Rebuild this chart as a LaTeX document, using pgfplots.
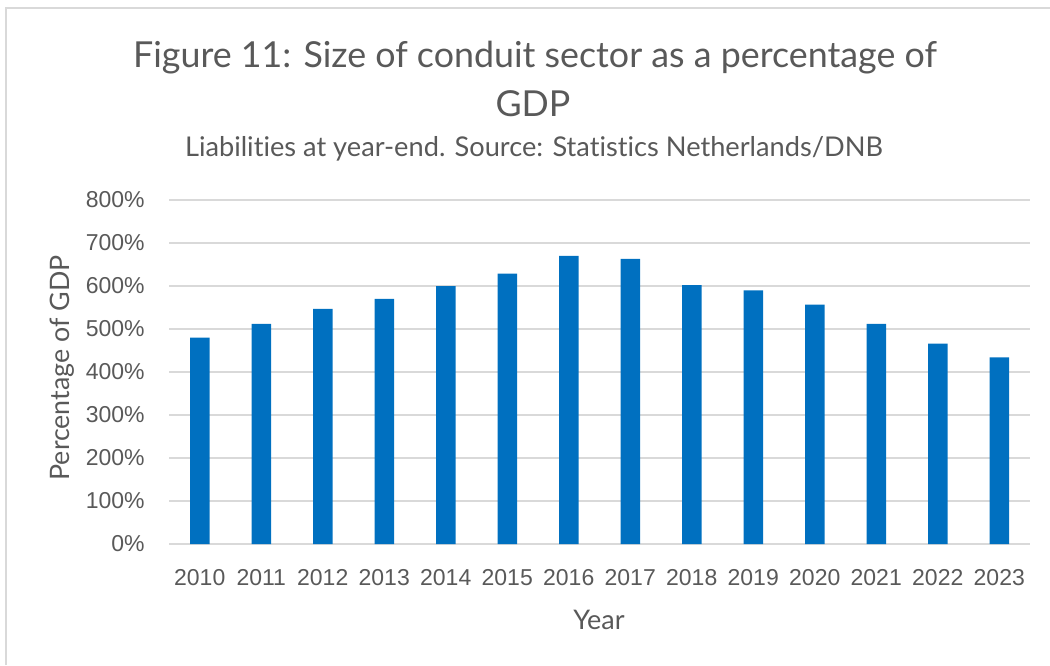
\documentclass[border=0pt]{standalone}
\usepackage{pgfplots}
\pgfplotsset{compat=1.18}
\usepackage{fontspec}
\setmainfont[Ligatures={NoCommon}]{Lato}
\newfontfamily\tickfont{Liberation Sans}
\definecolor{txt}{HTML}{595959}
\definecolor{gridc}{HTML}{D9D9D9}
\definecolor{bar}{HTML}{0070C0}
\pgfplotstableread{
idx year value
0 2010 480
1 2011 512
2 2012 547
3 2013 570
4 2014 600
5 2015 629
6 2016 670
7 2017 663
8 2018 602
9 2019 590
10 2020 557
11 2021 512
12 2022 466
13 2023 434
}\datatable
\begin{document}
\begin{tikzpicture}
\path[use as bounding box] (0pt,0pt) rectangle (525pt,-332.5pt);
\draw[gridc, line width=1.2pt] (3pt,-332.5pt) -- (3pt,-4pt) -- (525pt,-4pt);
\node[anchor=base, text=txt, font=\fontsize{17.9}{20}\selectfont] at (267.5pt,-33.5pt) {Figure 11: Size of conduit sector as a percentage of};
\node[anchor=base, text=txt, font=\fontsize{17.9}{20}\selectfont] at (266.5pt,-58pt) {GDP};
\node[anchor=base, text=txt, font=\fontsize{13.6}{15}\selectfont] at (267pt,-78pt) {Liabilities at year-end. Source: Statistics Netherlands/DNB};
\begin{axis}[
  at={(84.5pt,-272pt)}, anchor=south west,
  width=430.5pt, height=172pt, scale only axis,
  xmin=-0.5, xmax=13.5, ymin=0, ymax=800,
  axis line style={draw=none},
  ybar, bar width=9.75pt,
  xmajorgrids=false, ymajorgrids=true,
  y grid style={gridc, line width=0.8pt},
  ytick={0,100,...,800},
  xtick={0,...,13},
  xticklabels={2010,2011,2012,2013,2014,2015,2016,2017,2018,2019,2020,2021,2022,2023},
  yticklabel={\pgfmathprintnumber{\tick}\%},
  /pgf/number format/assume math mode=true,
  tick style={draw=none},
  major tick length=0pt,
  xticklabel style={font=\tickfont\fontsize{11.5}{13}\selectfont, text=txt, anchor=center, inner sep=0pt, yshift=-17pt},
  yticklabel style={font=\tickfont\fontsize{11.5}{13}\selectfont, text=txt, anchor=east, inner sep=0pt, xshift=-12pt},
  clip=false,
]
\addplot[fill=bar, draw=none] table[x=idx, y=value] {\datatable};
\end{axis}
\node[rotate=90, text=txt, font=\fontsize{13.4}{15}\selectfont] at (31pt,-184pt) {Percentage of GDP};
\node[text=txt, font=\fontsize{13.5}{15}\selectfont] at (299.5pt,-310pt) {Year};
\end{tikzpicture}
\end{document}
